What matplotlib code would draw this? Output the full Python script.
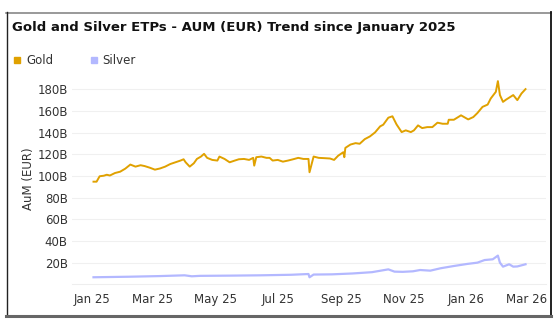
import matplotlib
matplotlib.use("Agg")
import matplotlib.pyplot as plt
from matplotlib.lines import Line2D
import pandas as pd

gold_dates = ["2025-01-02","2025-01-05","2025-01-08","2025-01-12","2025-01-15","2025-01-18",
    "2025-01-23","2025-01-28","2025-02-02","2025-02-07","2025-02-12","2025-02-17","2025-02-21",
    "2025-02-26","2025-03-03","2025-03-08","2025-03-13","2025-03-18","2025-03-23","2025-03-28",
    "2025-03-31","2025-04-02","2025-04-06","2025-04-10","2025-04-13","2025-04-17","2025-04-20",
    "2025-04-23","2025-04-28","2025-05-03","2025-05-05","2025-05-10","2025-05-15","2025-05-20",
    "2025-05-24","2025-05-29","2025-06-03","2025-06-07","2025-06-08","2025-06-10","2025-06-15",
    "2025-06-20","2025-06-23","2025-06-26","2025-07-01","2025-07-06","2025-07-11","2025-07-16",
    "2025-07-21","2025-07-26","2025-07-31","2025-08-01","2025-08-05","2025-08-10","2025-08-16",
    "2025-08-21","2025-08-25","2025-08-29","2025-09-03","2025-09-04","2025-09-05","2025-09-10",
    "2025-09-15","2025-09-19","2025-09-24","2025-09-29","2025-10-04","2025-10-09","2025-10-12",
    "2025-10-17","2025-10-21","2025-10-25","2025-10-30","2025-11-03","2025-11-08","2025-11-11",
    "2025-11-15","2025-11-19","2025-11-24","2025-11-29","2025-12-04","2025-12-09","2025-12-14",
    "2025-12-15","2025-12-20","2025-12-27","2026-01-03","2026-01-08","2026-01-12","2026-01-17",
    "2026-01-22","2026-01-25","2026-01-30","2026-02-01","2026-02-03","2026-02-06","2026-02-09",
    "2026-02-16","2026-02-20","2026-02-24","2026-02-28"]
gold_values = [94.8,94.8,99.8,100.3,101.2,100.5,
    102.8,104.0,106.8,110.6,108.7,110.0,109.2,
    107.7,105.9,107.0,108.7,111.1,112.7,114.3,
    115.5,112.7,108.7,111.8,115.8,118.0,120.5,
    116.8,114.9,114.3,118.0,115.8,112.7,114.3,
    115.5,115.8,114.9,116.8,109.6,117.4,118.0,
    116.8,116.8,114.3,114.9,113.3,114.3,115.5,
    116.8,115.8,115.8,103.5,118.0,116.8,116.5,
    116.2,114.9,118.8,122.0,117.4,126.0,129.1,
    130.4,129.8,134.1,136.6,140.3,145.9,147.4,
    153.9,155.2,147.7,140.6,142.2,140.6,142.2,
    146.8,144.3,145.2,145.2,149.3,148.3,148.3,
    152.0,152.0,156.1,152.3,154.5,158.2,163.9,
    166.0,171.6,177.8,187.7,174.8,168.5,170.6,
    174.8,170.1,176.2,180.3]

silver_dates = ["2025-01-02","2025-02-06","2025-03-08","2025-04-01","2025-04-08","2025-04-16",
    "2025-05-15","2025-06-14","2025-07-14","2025-07-31","2025-08-01","2025-08-05","2025-08-23",
    "2025-09-12","2025-10-01","2025-10-17","2025-10-23","2025-10-31","2025-11-10","2025-11-17",
    "2025-11-27","2025-12-07","2025-12-20","2026-01-02","2026-01-12","2026-01-19","2026-01-27",
    "2026-02-01","2026-02-03","2026-02-06","2026-02-12","2026-02-16","2026-02-20","2026-02-24",
    "2026-02-28"]
silver_values = [6.5,7.0,7.6,8.3,7.4,7.8,
    8.0,8.3,8.8,9.5,6.5,9.0,9.2,
    10.0,11.2,13.8,11.7,11.5,12.0,13.2,
    12.6,14.8,16.9,18.8,20.0,22.4,23.1,
    26.5,20.0,16.3,18.5,16.3,16.5,17.5,
    18.5]

y_ticks = [20, 40, 60, 80, 100, 120, 140, 160, 180]
y_tick_labels = [f"{v}B" for v in y_ticks]
x_ticks = ["2025-01-01","2025-03-01","2025-05-01","2025-07-01","2025-09-01","2025-11-01","2026-01-01","2026-03-01"]
x_tick_labels = ["Jan 25","Mar 25","May 25","Jul 25","Sep 25","Nov 25","Jan 26","Mar 26"]

GOLD = "#E0A100"
SILVER = "#B3B8FF"
TXT = "#333333"

W, H = 559, 322
fig = plt.figure(figsize=(W/100, H/100), dpi=100)
fig.patch.set_facecolor("white")

def fx(px): return px / W
def fy(py): return 1 - py / H

ax = fig.add_axes([fx(72), fy(284.3), fx(546) - fx(72), fy(73.2) - fy(284.3)])
ax.plot(pd.to_datetime(silver_dates), silver_values, color=SILVER, lw=1.6, solid_joinstyle="round")
ax.plot(pd.to_datetime(gold_dates), gold_values, color=GOLD, lw=1.4, solid_joinstyle="round")

ax.set_ylim(0, 195)
ax.set_xlim(pd.Timestamp("2024-12-12"), pd.Timestamp("2026-03-20"))
ax.set_yticks(y_ticks)
ax.set_yticklabels(y_tick_labels)
ax.set_xticks(pd.to_datetime(x_ticks))
ax.set_xticklabels(x_tick_labels)
ax.tick_params(axis="both", length=0, labelsize=8.5, colors=TXT)
ax.tick_params(axis="y", pad=3)
ax.tick_params(axis="x", pad=6)
ax.grid(axis="y", color="#f0f0f0", lw=0.8)
ax.set_axisbelow(True)
for s in ["top", "right", "left"]:
    ax.spines[s].set_visible(False)
ax.spines["bottom"].set_color("#eeeeee")
ax.spines["bottom"].set_linewidth(0.8)
ax.set_ylabel("AuM (EUR)", fontsize=8.5, color=TXT, labelpad=2)

fig.text(fx(12), fy(28), "Gold and Silver ETPs - AUM (EUR) Trend since January 2025",
         fontsize=9.5, fontweight="bold", color="#111111", va="center", ha="left")

# legend
fig.add_artist(Line2D([fx(17)], [fy(60)], marker="s", markersize=4, color=GOLD, lw=0,
                      transform=fig.transFigure))
fig.text(fx(26), fy(60), "Gold", fontsize=8.5, color=TXT, va="center", ha="left")
fig.add_artist(Line2D([fx(94)], [fy(60)], marker="s", markersize=4, color=SILVER, lw=0,
                      transform=fig.transFigure))
fig.text(fx(102), fy(60), "Silver", fontsize=8.5, color=TXT, va="center", ha="left")

# frame
fig.add_artist(Line2D([fx(6), fx(551)], [fy(12.5), fy(12.5)], color="#888888", lw=1.2, transform=fig.transFigure))
fig.add_artist(Line2D([fx(6.5), fx(6.5)], [fy(12), fy(316)], color="#222222", lw=1.0, transform=fig.transFigure))
fig.add_artist(Line2D([fx(550.5), fx(550.5)], [fy(12), fy(316)], color="#111111", lw=1.3, transform=fig.transFigure))
fig.add_artist(Line2D([fx(6), fx(551)], [fy(315.5), fy(315.5)], color="#666666", lw=2.2, transform=fig.transFigure))

fig.savefig("out.png", dpi=100)
